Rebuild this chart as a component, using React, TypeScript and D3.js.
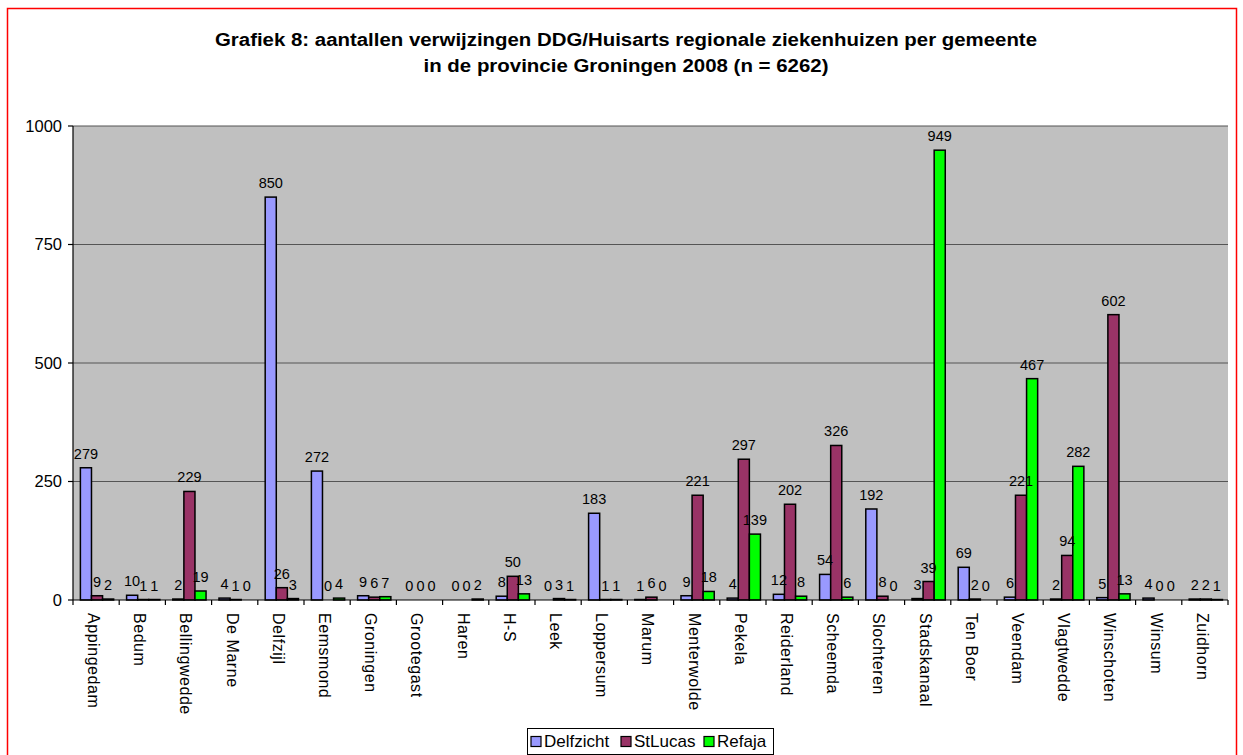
import React from "react";
import * as d3 from "d3";

const categories = [
  "Appingedam", "Bedum", "Bellingwedde", "De Marne", "Delfzijl", "Eemsmond",
  "Groningen", "Grootegast", "Haren", "H-S", "Leek", "Loppersum", "Marum",
  "Menterwolde", "Pekela", "Reiderland", "Scheemda", "Slochteren", "Stadskanaal",
  "Ten Boer", "Veendam", "Vlagtwedde", "Winschoten", "Winsum", "Zuidhorn",
];
const delfzicht = [279, 10, 2, 4, 850, 272, 9, 0, 0, 8, 0, 183, 1, 9, 4, 12, 54, 192, 3, 69, 6, 2, 5, 4, 2];
const stLucas = [9, 1, 229, 1, 26, 0, 6, 0, 0, 50, 3, 1, 6, 221, 297, 202, 326, 8, 39, 2, 221, 94, 602, 0, 2];
const refaja = [2, 1, 19, 0, 3, 4, 7, 0, 2, 13, 1, 1, 0, 18, 139, 8, 6, 0, 949, 0, 467, 282, 13, 0, 1];
const seriesNames = ["Delfzicht", "StLucas", "Refaja"];
const seriesColors = ["#9999FF", "#993366", "#00FF00"];
const yTicks = [0, 250, 500, 750, 1000];
const titleLines = [
  "Grafiek 8: aantallen verwijzingen DDG/Huisarts regionale ziekenhuizen per gemeente",
  "in de provincie Groningen 2008 (n = 6262)",
];

const W = 1243;
const H = 755;
const plot = { left: 73, right: 1228, top: 126, bottom: 600 };
const FONT = "'Liberation Sans', Arial, sans-serif";

export default function App() {
  const seriesData = [delfzicht, stLucas, refaja];
  const x0 = d3.scaleBand<string>().domain(categories).range([plot.left, plot.right]).padding(0);
  const bw = x0.bandwidth();
  const x1 = d3
    .scaleBand<string>()
    .domain(seriesNames)
    .range([bw * 0.16, bw * 0.88])
    .padding(0);
  const y = d3.scaleLinear().domain([0, 1000]).range([plot.bottom, plot.top]);
  const titleLen = [822, 405];
  const legendOffs = [531, 621, 704];

  return (
    <svg
      width={W}
      height={H}
      style={{ position: "absolute", left: 0, top: 0, background: "#fff" }}
      fontFamily={FONT}
    >
      <rect x={7.5} y={8.5} width={1229} height={760} fill="#fff" stroke="#FF0000" strokeWidth={1.5} />
      {titleLines.map((t, i) => (
        <text
          key={i}
          x={626 - titleLen[i] / 2}
          y={45.7 + i * 26}
          textLength={titleLen[i]}
          lengthAdjust="spacingAndGlyphs"
          fontSize={18}
          fontWeight="bold"
          fill="#000"
        >
          {t}
        </text>
      ))}
      <rect x={plot.left} y={plot.top} width={plot.right - plot.left} height={plot.bottom - plot.top} fill="#C0C0C0" />
      {yTicks.filter((t) => t > 0).map((t) => (
        <line key={t} x1={plot.left} x2={plot.right} y1={y(t)} y2={y(t)} stroke="#555" strokeWidth={1.2} />
      ))}
      {/* bars */}
      {categories.map((c, ci) => (
        <g key={c} transform={`translate(${x0(c)},0)`}>
          {seriesNames.map((s, si) => {
            const v = seriesData[si][ci];
            const by = y(v);
            return (
              <rect
                key={s}
                x={x1(s)!}
                y={by}
                width={x1.bandwidth()}
                height={Math.max(0, plot.bottom - by)}
                fill={seriesColors[si]}
                stroke="#000"
                strokeWidth={1.5}
              />
            );
          })}
        </g>
      ))}
      {/* data labels */}
      {categories.map((c, ci) => (
        <g key={"dl" + c} transform={`translate(${x0(c)},0)`}>
          {seriesNames.map((s, si) => {
            const v = seriesData[si][ci];
            return (
              <text
                key={s}
                x={x1(s)! + x1.bandwidth() / 2}
                y={y(v) - 9}
                textAnchor="middle"
                fontSize={14.5}
                fill="#000"
              >
                {v}
              </text>
            );
          })}
        </g>
      ))}
      {/* axes */}
      <line x1={plot.left} x2={plot.left} y1={plot.top} y2={plot.bottom} stroke="#000" strokeWidth={1.2} />
      <line x1={plot.left} x2={plot.right} y1={plot.bottom} y2={plot.bottom} stroke="#000" strokeWidth={1.2} />
      {yTicks.map((t) => (
        <g key={t}>
          <line x1={plot.left - 5} x2={plot.left} y1={y(t)} y2={y(t)} stroke="#000" strokeWidth={1.2} />
          <text x={plot.left - 11} y={y(t)} dy="0.35em" textAnchor="end" fontSize={16.5} fill="#000">
            {t}
          </text>
        </g>
      ))}
      {categories.map((c) => (
        <line key={"t" + c} x1={x0(c)!} x2={x0(c)!} y1={plot.bottom} y2={plot.bottom + 5} stroke="#000" strokeWidth={1.2} />
      ))}
      <line x1={plot.right} x2={plot.right} y1={plot.bottom} y2={plot.bottom + 5} stroke="#000" strokeWidth={1.2} />
      {categories.map((c) => (
        <text
          key={"l" + c}
          transform={`translate(${x0(c)! + bw / 2 - 2.5},${plot.bottom + 13}) rotate(90)`}
          dy="0.35em"
          textAnchor="start"
          fontSize={16}
          letterSpacing={0.55}
          fill="#000"
        >
          {c}
        </text>
      ))}
      {/* legend */}
      <rect x={527.5} y={728.5} width={246} height={26} fill="#fff" stroke="#000" strokeWidth={1} />
      {seriesNames.map((s, i) => (
        <g key={s} transform={`translate(${legendOffs[i]},741.5)`}>
          <rect x={0} y={-5} width={10} height={10} fill={seriesColors[i]} stroke="#000" strokeWidth={1.2} />
          <text x={13} y={0} dy="0.35em" fontSize={17} fill="#000">
            {s}
          </text>
        </g>
      ))}
    </svg>
  );
}
